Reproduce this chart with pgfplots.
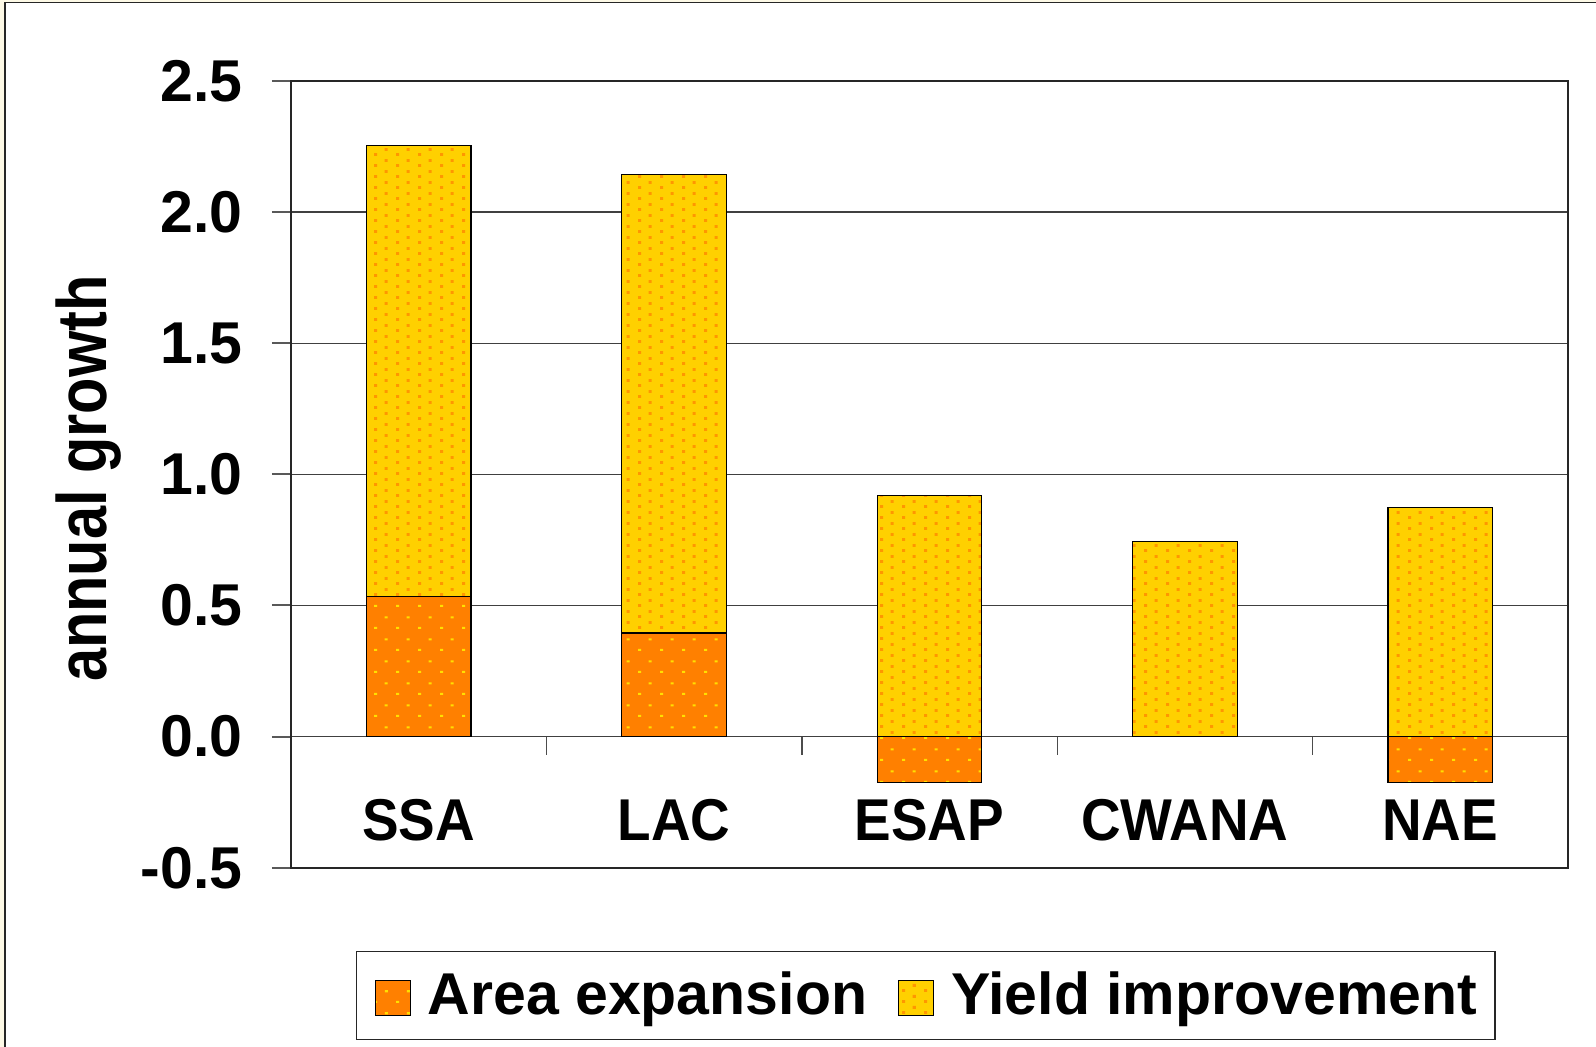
\documentclass[border=0pt]{standalone}
\usepackage{fontspec}
\setmainfont{Liberation Sans}
\usepackage{pgfplots}
\usepackage{pgfplotstable}
\pgfplotsset{compat=1.18}
\usetikzlibrary{patterns.meta}

\definecolor{areafill}{HTML}{FF8000}
\definecolor{areadot}{HTML}{FFE000}
\definecolor{yieldfill}{HTML}{FFD000}
\definecolor{yielddot}{HTML}{FF9600}
\definecolor{cream}{HTML}{FDF9E6}

% sparse dot textures of the two bar series
\tikzdeclarepattern{
  name=areadots, type=uncolored,
  bottom left={(0pt,0pt)}, top right={(11pt,11pt)}, tile size={(11pt,11pt)},
  code={\fill (0pt,0pt) rectangle (1.6pt,1.1pt);
        \fill (5.5pt,5.5pt) rectangle (7.1pt,6.6pt);}
}
\tikzdeclarepattern{
  name=yielddots, type=uncolored,
  bottom left={(0pt,0pt)}, top right={(11pt,5.5pt)}, tile size={(11pt,5.5pt)},
  code={\fill (0pt,0pt) rectangle (1.6pt,1.6pt);
        \fill (5.5pt,2.75pt) rectangle (7.1pt,4.35pt);}
}

% region, area contribution, total annual growth (area + yield)
\pgfplotstableread{
idx region area  total
0   SSA    0.535 2.255
1   LAC    0.395 2.142
2   ESAP  -0.175 0.919
3   CWANA  0.000 0.744
4   NAE   -0.175 0.873
}\growth

\newcommand{\bigfont}{\fontsize{29.5}{35}\selectfont\bfseries}

\pgfplotsset{
  areabar/.style={preaction={fill=areafill}, pattern=areadots, pattern color=areadot,
    draw=black, line width=0.6pt},
  yieldbar/.style={preaction={fill=yieldfill}, pattern=yielddots, pattern color=yielddot,
    draw=black, line width=0.6pt},
  swatch/.style={legend image code/.code={\draw[##1] (0pt,-0.5pt) rectangle (17.5pt,17pt);}},
}

\begin{document}
\begin{tikzpicture}
\fill[cream] (0,0) rectangle (798pt,-523.5pt);
\useasboundingbox (0,0) rectangle (798pt,-523.5pt);
\fill[white] (2.4pt,-1.25pt) rectangle (798pt,-523.5pt);
\draw[black!85, line width=0.8pt] (2.4pt,-523.5pt) -- (2.4pt,-1.25pt) -- (798pt,-1.25pt);

\begin{axis}[
  at={(145.5pt,-40.5pt)}, anchor=north west,
  scale only axis, width=638.5pt, height=393.35pt,
  xmin=-0.5, xmax=4.5, ymin=-0.5, ymax=2.5,
  xtick={0,1,2,3,4}, xticklabels={SSA,LAC,ESAP,CWANA,NAE},
  ytick={-0.5,0,0.5,1,1.5,2,2.5},
  yticklabels={-0.5,0.0,0.5,1.0,1.5,2.0,2.5},
  ytick pos=left, tick align=outside, major tick length=9.5pt,
  xtick style={draw=none},
  ytick style={black!65, line width=1pt},
  ymajorgrids, major grid style={black!75, line width=0.7pt},
  axis line style={black!85, line width=1pt},
  tick label style={font=\bigfont},
  yticklabel style={anchor=east, inner sep=0pt, xshift=-14.5pt},
  xticklabel style={anchor=base, inner sep=0pt, yshift=23.35pt, xscale=0.93},
  ylabel={annual growth},
  ylabel style={at={(axis description cs:-0.1445,0.4947)}, anchor=base,
    font=\fontsize{35}{40}\selectfont\bfseries, xscale=0.85, inner sep=0pt},
  ybar, bar width=0.41, bar shift=0pt,
  legend columns=2,
  legend style={at={(axis description cs:0.0509,-0.1059)}, anchor=north west,
    draw=black!85, line width=0.6pt, inner xsep=9pt, inner ysep=10.5pt,
    font=\bigfont,
    nodes={inner sep=0pt, text height=21.1pt, text depth=2pt},
    cells={anchor=base west},
    /tikz/every odd column/.append style={column sep=8.5pt},
    /tikz/every even column/.append style={column sep=15.5pt}},
]
\addplot[yieldbar, forget plot] table[x=idx, y=total] {\growth};
\addplot[areabar, forget plot] table[x=idx, y=area] {\growth};

\addlegendimage{areabar, swatch}
\addlegendentry{Area expansion}
\addlegendimage{yieldbar, swatch}
\addlegendentry{Yield improvement}

% category separators hanging below the zero line
\pgfplotsinvokeforeach{0.5,1.5,2.5,3.5}{
  \draw[black!70, line width=0.7pt] (axis cs:#1,0) -- ([yshift=-9pt]axis cs:#1,0);
}
\end{axis}
\end{tikzpicture}
\end{document}
